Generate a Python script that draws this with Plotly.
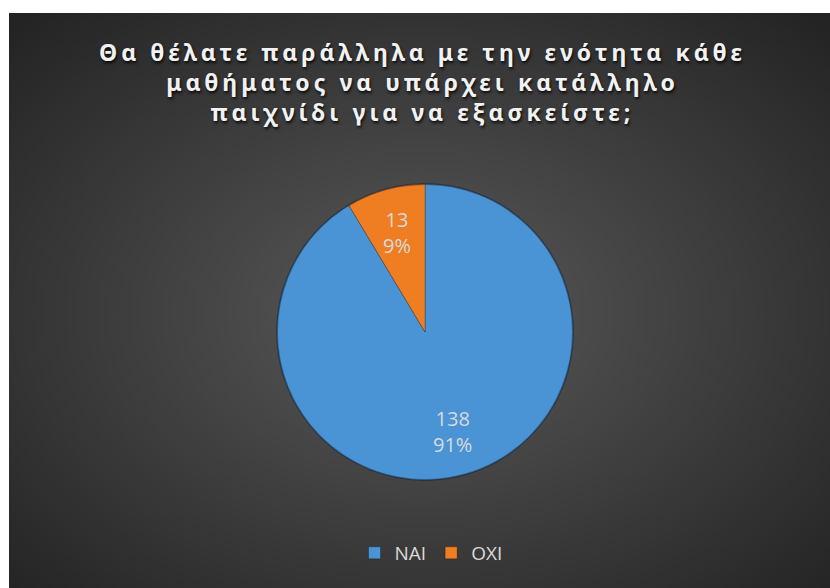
import base64
import math
import struct
import zlib

import numpy as np
import plotly.graph_objects as go

# Survey answers
answers = ["ΝΑΙ", "ΟΧΙ"]
counts = [138, 13]
slice_colors = ["#4a94d6", "#ef7d22"]

title_lines = [
    "Θα θέλατε παράλληλα με την ενότητα κάθε",
    "μαθήματος να υπάρχει κατάλληλο",
    "παιχνίδι για να εξασκείστε;",
]

W, H = 830, 588
BG_X0, BG_Y0 = 9, 13

# pie geometry in pixels
PIE_CX, PIE_CY, PIE_R = 425, 332, 148
LABEL_R = 0.70


def radial_png(w, h, cx, cy, inner, outer):
    """Build a grey radial-gradient PNG and return it as a data URI."""
    yy, xx = np.mgrid[0:h, 0:w].astype(float)
    d = np.sqrt(((xx - cx) / (w / 2)) ** 2 + ((yy - cy) / (h / 2)) ** 2) / np.sqrt(2)
    d = np.clip(d, 0, 1)
    v = (inner + (outer - inner) * d).astype(np.uint8)
    rgb = np.stack([v, v, v], axis=-1)
    raw = b"".join(b"\x00" + rgb[r].tobytes() for r in range(h))

    def chunk(tag, data):
        c = struct.pack(">I", len(data)) + tag + data
        return c + struct.pack(">I", zlib.crc32(tag + data) & 0xFFFFFFFF)

    png = b"\x89PNG\r\n\x1a\n"
    png += chunk(b"IHDR", struct.pack(">IIBBBBB", w, h, 8, 2, 0, 0, 0))
    png += chunk(b"IDAT", zlib.compress(raw, 9))
    png += chunk(b"IEND", b"")
    return "data:image/png;base64," + base64.b64encode(png).decode()


bw, bh = W - BG_X0, H - BG_Y0
background = radial_png(bw, bh, 411, 300, 0x5a, 0x24)

fig = go.Figure(
    go.Pie(
        labels=answers,
        values=counts,
        sort=False,
        direction="clockwise",
        rotation=0,
        marker=dict(colors=slice_colors, line=dict(color="rgba(0,0,0,0.25)", width=1)),
        textinfo="none",
        domain=dict(
            x=[(PIE_CX - PIE_R) / W, (PIE_CX + PIE_R) / W],
            y=[1 - (PIE_CY + PIE_R) / H, 1 - (PIE_CY - PIE_R) / H],
        ),
        hoverinfo="label+value+percent",
    )
)

# title as a centred annotation (index 0, letter-spaced below)
annotations = [
    dict(
        text="<br>".join(title_lines),
        xref="paper",
        yref="paper",
        x=422 / W,
        y=1 - 82 / H,
        xanchor="center",
        yanchor="middle",
        showarrow=False,
        align="center",
        font=dict(
            family="Noto Sans",
            size=23,
            weight="bold",
            color="#f2f2f2",
            shadow="1px 2px 3px rgba(0,0,0,0.85)",
        ),
    )
]

# value / percentage labels placed at each slice's mid-angle
total = sum(counts)
start = 0.0
for value in counts:
    frac = value / total
    mid = (start + frac / 2) * 2 * math.pi
    start += frac
    px = PIE_CX + LABEL_R * PIE_R * math.sin(mid)
    py = PIE_CY - LABEL_R * PIE_R * math.cos(mid)
    annotations.append(
        dict(
            text=f"{value}<br>{round(frac * 100)}%",
            xref="paper",
            yref="paper",
            x=px / W,
            y=1 - py / H,
            xanchor="center",
            yanchor="middle",
            showarrow=False,
            font=dict(family="Open Sans", size=20, color="#d9d9d9"),
        )
    )

# soft dark rim around the pie
rim = dict(
    type="circle",
    xref="paper",
    yref="paper",
    x0=(PIE_CX - PIE_R) / W,
    x1=(PIE_CX + PIE_R) / W,
    y0=1 - (PIE_CY + PIE_R) / H,
    y1=1 - (PIE_CY - PIE_R) / H,
    line=dict(color="rgba(20,30,45,0.35)", width=2),
    layer="above",
)

fig.update_layout(
    width=W,
    height=H,
    margin=dict(l=0, r=0, t=0, b=0),
    paper_bgcolor="white",
    images=[
        dict(
            source=background,
            xref="paper",
            yref="paper",
            x=BG_X0 / W,
            y=1 - BG_Y0 / H,
            sizex=bw / W,
            sizey=bh / H,
            xanchor="left",
            yanchor="top",
            sizing="stretch",
            layer="below",
        )
    ],
    shapes=[rim],
    annotations=annotations,
    showlegend=True,
    legend=dict(
        orientation="h",
        x=431 / W,
        xanchor="center",
        y=1 - 553 / H,
        yanchor="middle",
        font=dict(family="Open Sans", size=19, color="#d9d9d9"),
        bgcolor="rgba(0,0,0,0)",
        itemwidth=30,
    ),
)

spacing_js = """
document.querySelectorAll('.annotation[data-index="0"] text').forEach(function (t) {
  t.style.letterSpacing = '4px';
});
"""

fig.write_html("out.html", post_script=spacing_js)
